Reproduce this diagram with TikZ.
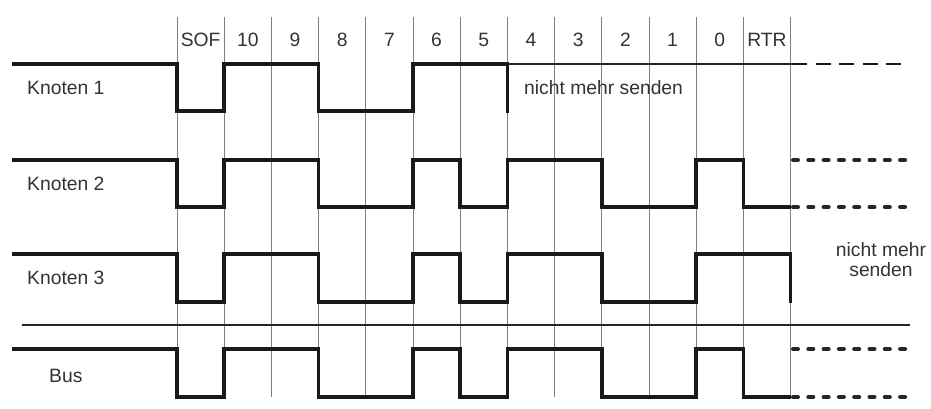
\documentclass[tikz,border=0pt]{standalone}
\usepackage{fontspec}
\setmainfont{Liberation Sans}
\begin{document}
\begin{tikzpicture}[x=1pt,y=-1pt,
  grid/.style={draw=black!50,line width=0.8pt},
  wave/.style={draw=black!90,line width=3.6pt,line join=miter,line cap=butt},
  thinline/.style={draw=black!85,line width=1.3pt},
  dashline/.style={draw=black!90,line width=2.2pt,dash pattern=on 15pt off 8.5pt},
  dotline/.style={draw=black!85,line width=4pt,line cap=round,dash pattern=on 5pt off 10.3pt},
  lbl/.style={inner sep=0pt,text=black!80,font=\fontsize{19.3}{20}\selectfont},
]
\useasboundingbox (0,0) rectangle (931,409);
\fill[white] (0,0) rectangle (931,409);
% grid lines
\foreach \i in {0,...,13} {
  \draw[grid] ({177+47.2*\i},17) -- ({177+47.2*\i},397);
}
% bit labels
\foreach \t [count=\i from 0] in {SOF,10,9,8,7,6,5,4,3,2,1,0,RTR} {
  \node[lbl,anchor=base] (b\i) at ({200.6+47.2*\i},47) {\t};
}
% separator
\draw[thinline,line width=1.1pt] (22,325) -- (910,325);
% Knoten 1
\draw[thinline] (507.4,64) -- (792,64);
\draw[dashline] (792,64) -- (902,64);
\draw[wave] (12,64) -- (177,64) -- (177,111) -- (224.2,111) -- (224.2,64) -- (318.6,64) -- (318.6,111) -- (413,111) -- (413,64) -- (507.4,64) -- (507.4,113);
% Knoten 2
\draw[wave] (12,160) -- (177,160) -- (177,207) -- (224.2,207) -- (224.2,160) -- (318.6,160) -- (318.6,207) -- (413,207) -- (413,160) -- (460.2,160) -- (460.2,207) -- (507.4,207) -- (507.4,160) -- (601.8,160) -- (601.8,207) -- (696.2,207) -- (696.2,160) -- (743.4,160) -- (743.4,207) -- (790.6,207);
\draw[dotline] (793,160) -- (907,160);
\draw[dotline] (793,207) -- (907,207);
% Knoten 3
\draw[wave] (12,254) -- (177,254) -- (177,302) -- (224.2,302) -- (224.2,254) -- (318.6,254) -- (318.6,302) -- (413,302) -- (413,254) -- (460.2,254) -- (460.2,302) -- (507.4,302) -- (507.4,254) -- (601.8,254) -- (601.8,302) -- (696.2,302) -- (696.2,254) -- (790.6,254) -- (790.6,303);
% Bus
\draw[wave] (12,349) -- (177,349) -- (177,397) -- (224.2,397) -- (224.2,349) -- (318.6,349) -- (318.6,397) -- (413,397) -- (413,349) -- (460.2,349) -- (460.2,397) -- (507.4,397) -- (507.4,349) -- (601.8,349) -- (601.8,397) -- (696.2,397) -- (696.2,349) -- (743.4,349) -- (743.4,397) -- (790.6,397);
\draw[dotline] (793,349) -- (907,349);
\draw[dotline] (793,397) -- (907,397);
% labels
\node[lbl,anchor=base west] (k1) at (27,95) {Knoten 1};
\node[lbl,anchor=base west] (k2) at (27,190) {Knoten 2};
\node[lbl,anchor=base west] (k3) at (27,284) {Knoten 3};
\node[lbl,anchor=base west] (bus) at (49,382) {Bus};
\node[lbl,anchor=base west] (n1) at (524,95) {nicht mehr senden};
\node[lbl,anchor=base,align=center] (n3) at (881,276) {nicht mehr\\senden};
\end{tikzpicture}
\end{document}
